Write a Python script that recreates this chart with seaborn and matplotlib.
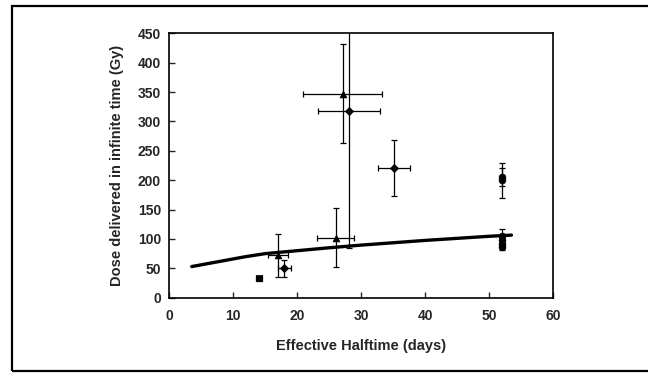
import matplotlib
matplotlib.use("Agg")
import matplotlib.pyplot as plt
import seaborn as sns
import pandas as pd
from matplotlib.patches import Rectangle

# ---- data ----
pt_x = [14, 17, 18, 26, 27.1, 28.1, 35.1, 52, 52, 52, 52, 52, 52]
pt_y = [33, 72, 50, 102, 347, 318, 221, 205, 200, 105, 98, 92, 86]
pt_xerr = [0.5, 1.5, 1.0, 2.9, 6.2, 4.8, 2.5, 0, 0, 0, 0, 0, 0]
pt_yerr_lo = [4, 36, 15, 50, 84, 234, 48, 15, 30, 12, 6, 6, 4]
pt_yerr_hi = [4, 36, 15, 50, 84, 234, 48, 15, 30, 12, 6, 6, 4]
pt_marker = ["s", "^", "D", "^", "^", "D", "D", "o", "o", "o", "o", "o", "o"]

curve_x = [3.5, 6, 8, 10, 12, 15, 20, 25, 30, 35, 40, 45, 50, 53.5]
curve_y = [53, 58, 62, 66, 70, 75, 80, 85, 89.5, 93.5, 97.5, 101, 104.5, 106.5]

x_ticks = [0, 10, 20, 30, 40, 50, 60]
y_ticks = [0, 50, 100, 150, 200, 250, 300, 350, 400, 450]

sns.set_style("ticks")
plt.rcParams['font.family'] = ['Liberation Sans', 'DejaVu Sans']
plt.rcParams['font.weight'] = 'bold'

fig = plt.figure(figsize=(6.48, 3.73), dpi=100)
ax = fig.add_axes([0.2614, 0.2019, 0.5920, 0.7088])

# outer frame
fig.patches.append(Rectangle((12/648, 1-371/373), 1.2, (371-6)/373, transform=fig.transFigure,
                             fill=False, edgecolor='black', linewidth=1.6, clip_on=False))

curve = pd.DataFrame({"x": curve_x, "y": curve_y})
sns.lineplot(data=curve, x="x", y="y", ax=ax, color="black", linewidth=2.4, sort=False)

for i in range(len(pt_x)):
    ax.errorbar(pt_x[i], pt_y[i],
                xerr=[[pt_xerr[i]], [pt_xerr[i]]] if pt_xerr[i] > 0 else None,
                yerr=[[pt_yerr_lo[i]], [pt_yerr_hi[i]]],
                fmt='none', ecolor='black', elinewidth=0.9, capsize=2.5, capthick=0.9)

pts = pd.DataFrame({"x": pt_x, "y": pt_y, "m": pt_marker})
for m in ["s", "^", "D", "o"]:
    sub = pts[pts["m"] == m]
    sns.scatterplot(data=sub, x="x", y="y", ax=ax, marker=m, color="black",
                    s=24 if m != "D" else 18, edgecolor="black", linewidth=0.5, legend=False)

ax.set_xlim(0, 60)
ax.set_ylim(0, 450)
ax.set_xticks(x_ticks)
ax.set_yticks(y_ticks)
ax.set_xticklabels([str(t) for t in x_ticks], fontsize=10, fontweight='bold')
ax.set_yticklabels([str(t) for t in y_ticks], fontsize=10, fontweight='bold')
ax.tick_params(axis='x', direction='in', length=4, width=1, pad=8)
ax.tick_params(axis='y', direction='in', length=4, width=1, pad=6)
for s in ax.spines.values():
    s.set_visible(True)
    s.set_linewidth(1.2)
    s.set_color('black')

ax.set_xlabel("Effective Halftime (days)", fontsize=10.5, fontweight='bold', labelpad=12)
ax.set_ylabel("Dose delivered in infinite time (Gy)", fontsize=10.5, fontweight='bold', labelpad=10)

fig.savefig("out.png", dpi=100, facecolor="white")
